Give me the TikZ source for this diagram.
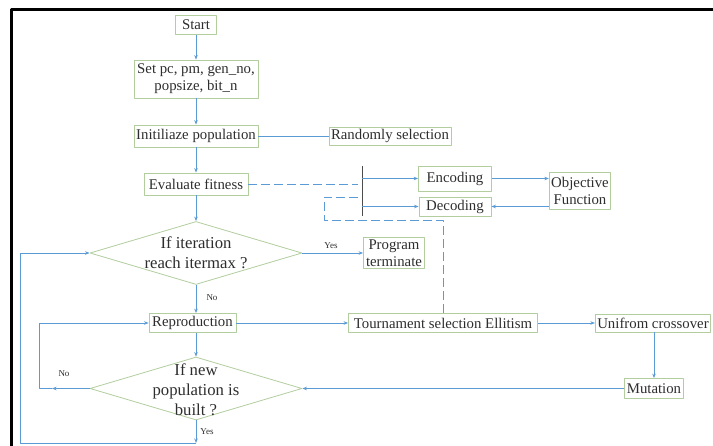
\documentclass[tikz,border=0pt]{standalone}
\usepackage{fontspec}
\setmainfont{Liberation Serif}
\usetikzlibrary{shapes.geometric,arrows.meta}
\definecolor{lineblue}{RGB}{91,155,213}
\definecolor{boxgreen}{RGB}{178,205,158}
\definecolor{txtgray}{RGB}{45,45,45}
\tikzset{
	box/.style={draw=boxgreen, line width=.8pt, text=txtgray, inner xsep=2pt, inner ysep=2pt, minimum height=20pt, align=center, font=\fontsize{14.8}{17}\selectfont},
	decision/.style={draw=boxgreen, line width=.8pt, shape=diamond, minimum width=212pt, minimum height=63pt, inner sep=0pt},
	decisiontext/.style={text=txtgray, align=center, font=\fontsize{16.7}{20}\selectfont},
	conn/.style={draw=lineblue, line width=.8pt},
	dashconn/.style={conn, dash pattern=on 9pt off 4pt},
	tag/.style={text=txtgray, font=\fontsize{9}{10}\selectfont}
}
\begin{document}
\begin{tikzpicture}[x=1pt, y=-1pt, >={Stealth[length=4.5pt, width=3.5pt]}, line join=round]
	\useasboundingbox (0,0) rectangle (713,446);
	%Khung
	\draw[line width=3pt] (11,446)--(11,10)--(713,10);
	%Cot chinh
	\node[box, minimum width=41pt, minimum height=19pt] (start) at (196,25) {Start};
	\node[box, minimum width=124pt, minimum height=38pt] (setp) at (196,79) {Set pc, pm, gen\_no,\\popsize, bit\_n};
	\node[box, minimum width=124pt, minimum height=22pt] (init) at (196,136) {Initiliaze population};
	\node[box, minimum height=18pt] (rand) at (390,136) {Randomly selection};
	\node[box, minimum width=104pt, minimum height=22pt] (eval) at (196,184) {Evaluate fitness};
	\node[decision] (iter) at (196,253) {};
	\node[decisiontext] (itertext) at (196,253) {If iteration\\reach itermax ?};
	\node[box, minimum width=61pt] (prog) at (394,253) {Program\\terminate};
	\node[box, minimum width=87pt, minimum height=19pt] (rep) at (192.5,323) {Reproduction};
	\node[box, minimum width=189pt, minimum height=19pt] (tour) at (443,323) {Tournament selection Ellitism};
	\node[box, minimum height=18pt] (cross) at (653,323) {Unifrom crossover};
	\node[box, minimum height=20pt] (mut) at (654,388.5) {Mutation};
	\node[decision] (new) at (196,388.5) {};
	\node[decisiontext] (newtext) at (196,390) {If new\\population is\\built ?};
	%Ma hoa
	\node[box, minimum width=73pt, minimum height=25pt] (enc) at (455,178.5) {Encoding};
	\node[box, minimum width=72pt, minimum height=19pt] (dec) at (455,206.5) {Decoding};
	\node[box, minimum width=61pt, minimum height=37pt] (obj) at (580,191) {Objective\\Function};
	\coordinate (bartop) at (362,166);
	\coordinate (barbot) at (362,216);
	%Nhan
	\node[tag] (yes1) at (331,246) {Yes};
	\node[tag] (no1) at (212,298) {No};
	\node[tag] (no2) at (64,374) {No};
	\node[tag] (yes2) at (207,432) {Yes};
	%Mui ten
	\draw[conn,->] (start)--(setp);
	\draw[conn,->] (setp)--(init);
	\draw[conn] (init)--(rand);
	\draw[conn,->] (init)--(eval);
	\draw[conn,->] (eval)--(iter);
	\draw[conn,->] (iter.east)--(prog.west);
	\draw[conn,->] (iter.south)--(iter.south |- rep.north);
	\draw[conn,->] (new.north |- rep.south)--(new.north);
	\draw[conn,->] (rep)--(tour);
	\draw[conn,->] (tour)--(cross);
	\draw[conn,->] (mut.north |- cross.south)--(mut.north);
	\draw[conn,->] (mut.west)--(new.east);
	%Vong lap No
	\coordinate (noarr) at (52,388.5);
	\coordinate (nocorner) at (39,388.5);
	\draw[conn,->] (new.west)--(noarr);
	\draw[conn,->] (noarr)--(nocorner)|-(rep.west);
	%Vong lap Yes
	\coordinate (yesend) at (196,443);
	\coordinate (outcorner) at (20,443);
	\draw[conn,->] (new.south)--(yesend);
	\draw[conn,->] (yesend)--(outcorner)|-(iter.west);
	%Encoding / Decoding
	\draw[dashconn] (eval.east)--(358,184);
	\draw[draw=gray!60!black, line width=.8pt] (bartop)--(barbot);
	\draw[conn,->] (bartop |- enc.west)--(enc.west);
	\draw[conn,->] (bartop |- dec.west)--(dec.west);
	\draw[conn,->] (enc.east)--(enc.east -| obj.west);
	\draw[conn,->] (dec.east -| obj.west)--(dec.east);
	\draw[dashconn] (tour.north)|-(324,220)|-(358,197);
\end{tikzpicture}
\end{document}
